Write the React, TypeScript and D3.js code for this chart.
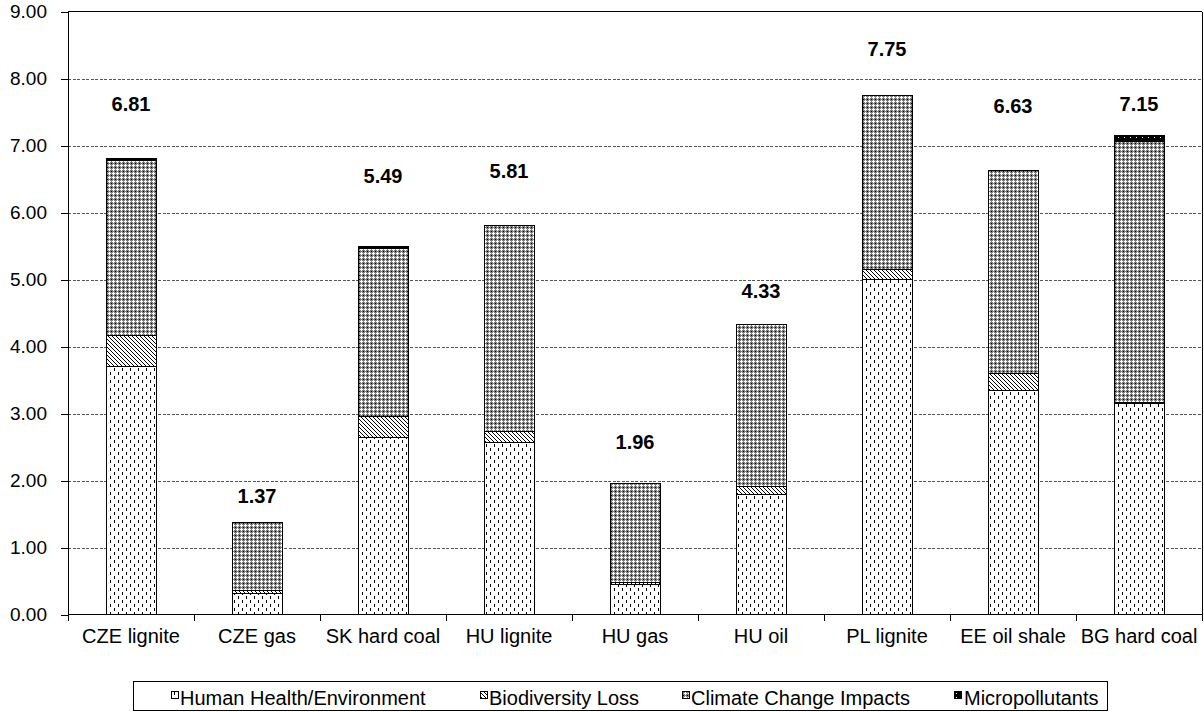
import React from "react";
import * as d3 from "d3";

const categories = ["CZE lignite", "CZE gas", "SK hard coal", "HU lignite", "HU gas", "HU oil", "PL lignite", "EE oil shale", "BG hard coal"];
const humanHealth = [3.70, 0.31, 2.64, 2.57, 0.45, 1.79, 5.00, 3.34, 3.15];
const biodiversity = [0.47, 0.05, 0.32, 0.16, 0.03, 0.12, 0.15, 0.26, 0.02];
const climate = [2.60, 1.01, 2.51, 3.08, 1.48, 2.42, 2.60, 3.03, 3.89];
const micro = [0.04, 0.0, 0.02, 0.0, 0.0, 0.0, 0.0, 0.0, 0.09];
const totals = [6.81, 1.37, 5.49, 5.81, 1.96, 4.33, 7.75, 6.63, 7.15];
const labelLevels = [7.52, 1.66, 6.44, 6.51, 2.47, 4.73, 8.34, 7.49, 7.52];
const yTicks = [0, 1, 2, 3, 4, 5, 6, 7, 8, 9];
const seriesNames = ["Human Health/Environment", "Biodiversity Loss", "Climate Change Impacts", "Micropollutants"];

const W = 1204;
const H = 712;
const left = 68;
const right = 1202;
const top = 11.5;
const bottom = 614.5;
const FONT = "Arial, 'Liberation Sans', sans-serif";

export default function App() {
  const x = d3.scaleBand<string>().domain(categories).range([left, right]).paddingInner(0).paddingOuter(0);
  const y = d3.scaleLinear().domain([0, 9]).range([bottom, top]);
  const bw = 50;
  const fills = ["url(#pHH)", "url(#pBio)", "url(#pCC)", "url(#pMic)"];
  const rows = categories.map((c, i) => ({ c, hh: humanHealth[i], bio: biodiversity[i], cc: climate[i], mic: micro[i] }));
  const stack = d3.stack<any>().keys(["hh", "bio", "cc", "mic"])(rows);

  const legendItems = [
    { sx: 171, tx: 180 },
    { sx: 480, tx: 489 },
    { sx: 682, tx: 691 },
    { sx: 954, tx: 964 },
  ];

  return (
    <svg width={W} height={H} style={{ position: "absolute", left: 0, top: 0, background: "#fff" }} shapeRendering="crispEdges">
      <defs>
        <pattern id="pHH" patternUnits="userSpaceOnUse" width={8} height={8}>
          <rect width={8} height={8} fill="#fff" />
          <rect x={2} y={0} width={1} height={3} fill="#000" />
          <rect x={6} y={4} width={1} height={3} fill="#000" />
        </pattern>
        <pattern id="pBio" patternUnits="userSpaceOnUse" width={4} height={4}>
          <rect width={4} height={4} fill="#fff" />
          <path d="M0,0 L4,4 M-1,3 L1,5 M3,-1 L5,1" stroke="#000" strokeWidth={1} shapeRendering="auto" />
        </pattern>
        <pattern id="pCC" patternUnits="userSpaceOnUse" width={4} height={4}>
          <rect width={4} height={4} fill="#808080" />
          <rect x={1} y={0} width={1} height={3} fill="#fff" />
          <rect x={0} y={1} width={3} height={1} fill="#fff" />
          <rect x={3} y={3} width={1} height={1} fill="#000" />
        </pattern>
        <pattern id="pMic" patternUnits="userSpaceOnUse" width={6} height={4}>
          <rect width={6} height={4} fill="#000" />
          <rect x={2} y={1} width={1} height={1} fill="#fff" />
        </pattern>
      </defs>

      {yTicks.filter(t => t > 0 && t < 9).map(t => (
        <line key={t} x1={left} x2={right} y1={Math.round(y(t)) + 0.5} y2={Math.round(y(t)) + 0.5} stroke="#555" strokeDasharray="3 1.5" />
      ))}
      <line x1={left} x2={right} y1={top} y2={top} stroke="#000" />
      <line x1={right} x2={right} y1={top} y2={bottom} stroke="#000" />

      {stack.map((s, si) => (
        <g key={si}>
          {s.map((d, i) => {
            const h = y(d[0]) - y(d[1]);
            if (h <= 0.01) return null;
            const cx = (x(categories[i]) as number) + x.bandwidth() / 2;
            return (
              <rect key={i} x={Math.round(cx - bw / 2) + 0.5} y={y(d[1])} width={bw} height={h} fill={fills[si]} stroke="#000" strokeWidth={1} />
            );
          })}
        </g>
      ))}

      {categories.map((c, i) => (
        <text key={c} x={(x(c) as number) + x.bandwidth() / 2} y={y(labelLevels[i])} textAnchor="middle" fontFamily={FONT} fontWeight="bold" fontSize={20}>
          {totals[i].toFixed(2)}
        </text>
      ))}

      <line x1={left} x2={left} y1={top} y2={bottom} stroke="#000" />
      <line x1={left} x2={right} y1={bottom} y2={bottom} stroke="#000" />
      {yTicks.map(t => (
        <g key={t}>
          <line x1={left - 7} x2={left} y1={Math.round(y(t)) + 0.5} y2={Math.round(y(t)) + 0.5} stroke="#000" />
          <text x={47} y={y(t) + 6} textAnchor="end" fontFamily={FONT} fontSize={19}>{t.toFixed(2)}</text>
        </g>
      ))}
      {d3.range(categories.length + 1).map(i => {
        const xx = Math.round(left + i * x.bandwidth()) + 0.5;
        return <line key={i} x1={xx} x2={xx} y1={bottom} y2={bottom + 6} stroke="#000" />;
      })}
      {categories.map(c => (
        <text key={c} x={(x(c) as number) + x.bandwidth() / 2} y={643} textAnchor="middle" fontFamily={FONT} fontSize={20}>{c}</text>
      ))}

      <rect x={133.5} y={681.5} width={974} height={29} fill="#fff" stroke="#000" />
      {seriesNames.map((n, i) => (
        <g key={n}>
          <rect x={legendItems[i].sx + 0.5} y={691.5} width={7} height={7} fill={fills[i]} stroke="#000" />
          <text x={legendItems[i].tx} y={705} fontFamily={FONT} fontSize={20}>{n}</text>
        </g>
      ))}
    </svg>
  );
}
